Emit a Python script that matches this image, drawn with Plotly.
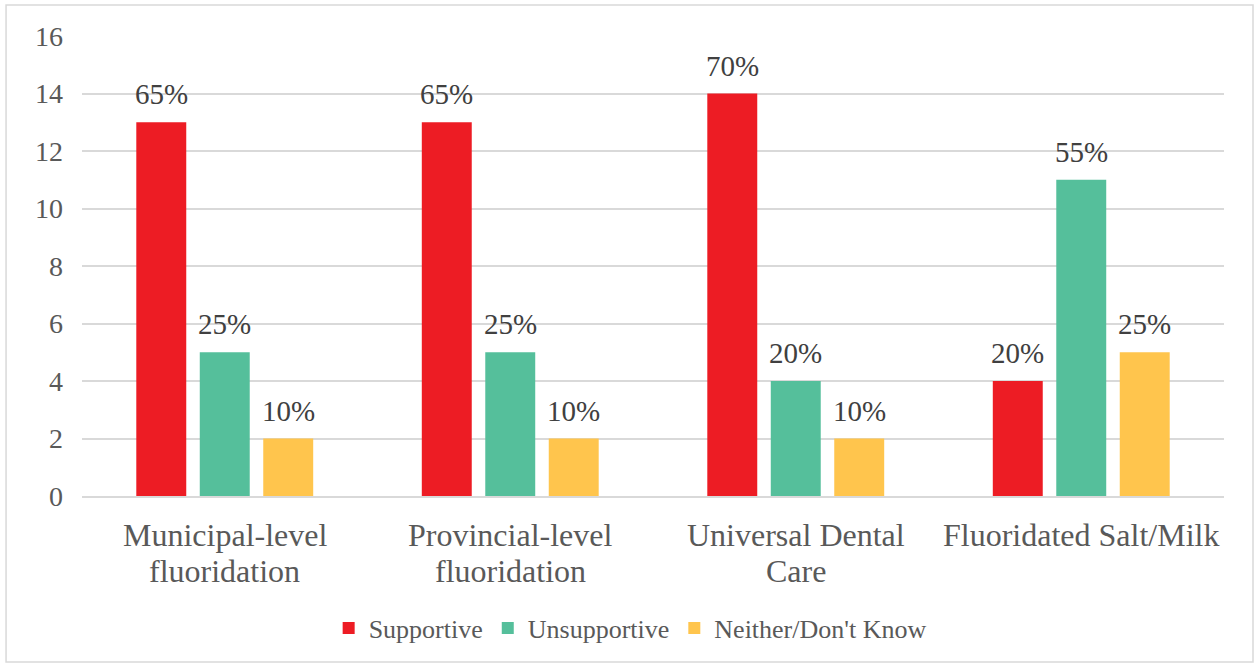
import plotly.graph_objects as go

categories = ["Municipal-level<br>fluoridation", "Provincial-level<br>fluoridation",
              "Universal Dental<br>Care", "Fluoridated Salt/Milk"]
supportive = [13, 13, 14, 4]
unsupportive = [5, 5, 4, 11]
neither = [2, 2, 2, 5]

series = [
    ("Supportive", supportive, "#ED1C24"),
    ("Unsupportive", unsupportive, "#55BF9B"),
    ("Neither/Don't Know", neither, "#FFC54D"),
]

totals = [s + u + n for s, u, n in zip(supportive, unsupportive, neither)]

SERIF = "Times New Roman, Liberation Serif, DejaVu Serif, serif"
GREY = "#595959"

fig = go.Figure()
for name, vals, color in series:
    fig.add_trace(go.Bar(
        x=categories, y=vals, name=name,
        marker=dict(color=color, line=dict(width=0)),
    ))

# percentage labels above each bar
offsets = [-63.5, 0, 63.5]
for (name, vals, color), dx in zip(series, offsets):
    for cat, v, t in zip(categories, vals, totals):
        fig.add_annotation(
            x=cat, y=v, xref="x", yref="y",
            text=f"{round(100 * v / t)}%",
            showarrow=False, xshift=dx, yanchor="bottom", yshift=10,
            font=dict(family=SERIF, size=29, color="#404040"),
        )

# category labels under the axis, one annotation per line for tighter leading
for cat in categories:
    for i, line in enumerate(cat.split("<br>")):
        fig.add_annotation(
            x=cat, y=0, xref="x", yref="paper",
            text=line, showarrow=False, yanchor="middle",
            yshift=-39 - 36 * i,
            font=dict(family=SERIF, size=32, color=GREY),
        )

# outer chart border
fig.add_shape(type="rect", xref="paper", yref="paper",
              x0=-0.0665, x1=1.0254, y0=-0.361, y1=1.0674,
              line=dict(color="#D9D9D9", width=1.5), layer="below")

fig.update_layout(
    width=1255, height=664,
    margin=dict(l=82, r=31, t=36, b=168),
    plot_bgcolor="white", paper_bgcolor="white",
    barmode="group", bargap=0.333, bargroupgap=0.213,
    font=dict(family=SERIF, color=GREY),
    legend=dict(orientation="h", x=0.48, xanchor="center", y=-0.287, yanchor="middle",
                font=dict(family=SERIF, size=26, color=GREY), itemwidth=30,
                traceorder="normal"),
    showlegend=True,
)
fig.update_xaxes(showticklabels=False, showline=True,
                 linecolor="#D9D9D9", linewidth=1.5, ticks="")
fig.update_yaxes(range=[0, 16], dtick=2, showgrid=True, gridcolor="#D9D9D9",
                 gridwidth=1.5, zeroline=False, showline=False,
                 tickfont=dict(family=SERIF, size=28, color=GREY), ticklabelstandoff=18)

fig.write_html("out.html")
